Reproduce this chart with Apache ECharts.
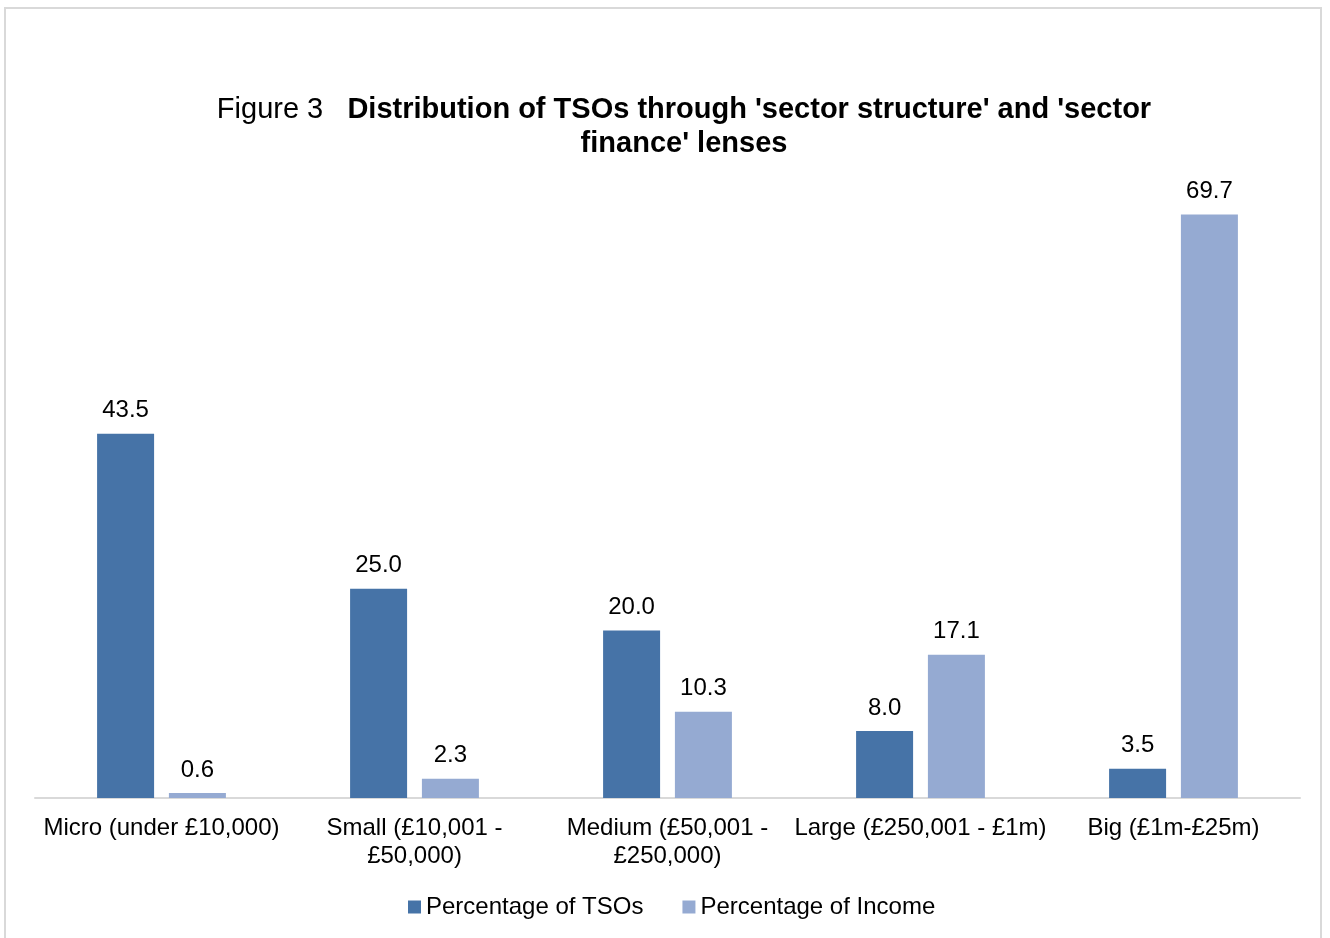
<!DOCTYPE html>
<html>
<head>
<meta charset="utf-8">
<script src="https://cdn.jsdelivr.net/npm/echarts@6/dist/echarts.min.js"></script>
<style>
html, body { margin: 0; padding: 0; background: #fff; }
.frame {
    position: absolute;
    left: 4px;
    top: 7px;
    width: 1318px;
    height: 940px;
    border: 2px solid #d9d9d9;
    box-sizing: border-box;
}
#chart { position: absolute; left: 0; top: 0; width: 1330px; height: 938px; }
</style>
</head>
<body>
<div class="frame"></div>
<div id="chart"></div>
<script>
// categories and values
const categories = [
    'Micro (under £10,000)',
    'Small (£10,001 -\n£50,000)',
    'Medium (£50,001 -\n£250,000)',
    'Large (£250,001 - £1m)',
    'Big (£1m-£25m)'
]
const pctTSOs = [43.5, 25.0, 20.0, 8.0, 3.5]
const pctIncome = [0.6, 2.3, 10.3, 17.1, 69.7]

let chartDom = document.getElementById('chart')
let myChart = echarts.init(chartDom)
let option

const labelStyle = {
    show: true,
    position: 'top',
    distance: 11,
    color: '#000',
    fontSize: 24,
    fontFamily: 'Liberation Sans',
    formatter: p => p.value.toFixed(1)
}

option = {
    animation: false,
    backgroundColor: 'transparent',
    title: {
        text: "{n|Figure 3   }{b|Distribution of TSOs through 'sector structure' and 'sector}\n{b|finance' lenses}",
        left: 679,
        textAlign: 'center',
        top: 88,
        textStyle: {
            fontFamily: 'Liberation Sans',
            fontSize: 29,
            lineHeight: 34,
            align: 'center',
            rich: {
                n: { fontSize: 29, fontWeight: 'normal', color: '#000', fontFamily: 'Liberation Sans', lineHeight: 34 },
                b: { fontSize: 29, fontWeight: 'bold', color: '#000', fontFamily: 'Liberation Sans', lineHeight: 34 }
            }
        }
    },
    legend: {
        bottom: 14,
        left: 403,
        itemWidth: 13,
        itemHeight: 13,
        itemGap: 39,
        icon: 'rect',
        textStyle: { fontSize: 24, color: '#000', fontFamily: 'Liberation Sans' },
        data: ['Percentage of TSOs', 'Percentage of Income']
    },
    grid: {
        left: 35,
        right: 30,
        top: 170,
        bottom: 140
    },
    xAxis: {
        type: 'category',
        data: categories,
        axisLine: { lineStyle: { color: '#d9d9d9', width: 2 } },
        axisTick: { show: false },
        axisLabel: {
            interval: 0,
            margin: 16,
            color: '#000',
            fontSize: 24,
            lineHeight: 28,
            fontFamily: 'Liberation Sans'
        }
    },
    yAxis: {
        type: 'value',
        min: 0,
        max: 75,
        show: false,
        splitLine: { show: false }
    },
    series: [
        {
            name: 'Percentage of TSOs',
            type: 'bar',
            data: pctTSOs,
            barWidth: 57,
            barGap: '26%',
            itemStyle: { color: '#4673A7' },
            label: labelStyle
        },
        {
            name: 'Percentage of Income',
            type: 'bar',
            data: pctIncome,
            barWidth: 57,
            itemStyle: { color: '#95AAD2' },
            label: labelStyle
        }
    ]
}

option && myChart.setOption(option)
</script>
</body>
</html>
